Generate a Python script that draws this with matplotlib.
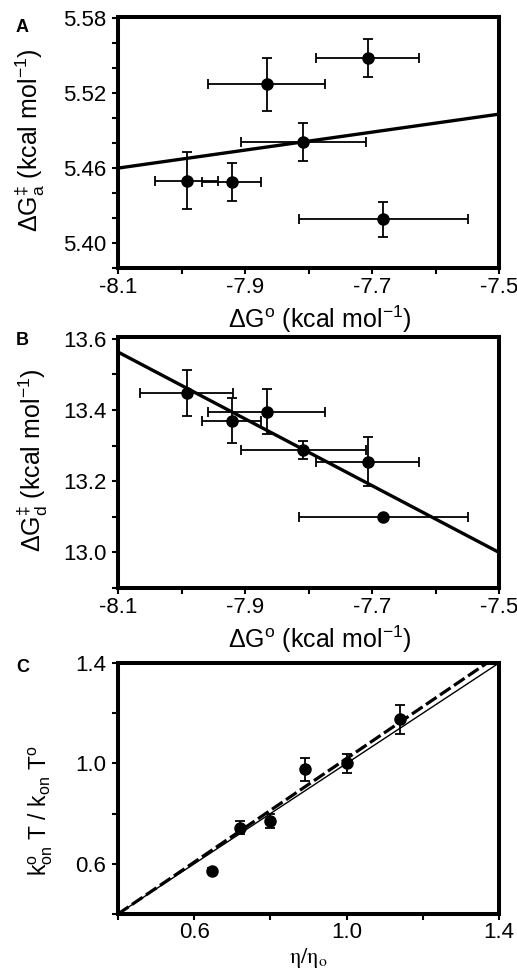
import matplotlib
matplotlib.use("Agg")
import matplotlib.pyplot as plt
import numpy as np
from matplotlib.ticker import FixedLocator

plt.rcParams['font.family'] = ['Liberation Sans', 'DejaVu Sans']
plt.rcParams['mathtext.fontset'] = 'custom'
plt.rcParams['mathtext.rm'] = 'Liberation Sans'
plt.rcParams['mathtext.it'] = 'Liberation Sans:italic'
plt.rcParams['mathtext.bf'] = 'Liberation Sans:bold'

# ---------------- data ----------------
dG0 = [-7.992, -7.921, -7.866, -7.808, -7.707, -7.682]
dG0_err = [0.050, 0.046, 0.092, 0.098, 0.081, 0.133]

dGa = [5.450, 5.449, 5.527, 5.481, 5.548, 5.419]
dGa_err = [0.023, 0.015, 0.021, 0.0155, 0.015, 0.014]

dGd = [13.447, 13.370, 13.395, 13.288, 13.255, 13.100]
dGd_err = [0.064, 0.063, 0.063, 0.026, 0.069, 0.004]
dG0_err_B = [0.073, 0.046, 0.092, 0.098, 0.081, 0.133]

eta = [0.646, 0.720, 0.800, 0.890, 1.000, 1.140]
kratio = [0.573, 0.744, 0.771, 0.976, 1.000, 1.176]
kratio_err = [0.010, 0.025, 0.027, 0.047, 0.039, 0.058]

fitA = (0.072, 6.0432)      # slope, intercept
fitB = (-0.938, 5.965)
fitC_dash = (1.0325, -0.013)
fitC_solid = (1.0, 0.0)

# ---------------- figure ----------------
W, H = 517, 969
fig = plt.figure(figsize=(W / 100, H / 100), dpi=100)

def px_axes(left, top, right, bottom):
    return fig.add_axes([left / W, 1 - bottom / H, (right - left) / W, (bottom - top) / H])

FS = 16
LFS = 18
SPINE = 2.9

def style(ax, xlim, ylim, xmaj, xmin, ymaj, ymin, xlabs, ylabs, xpad=2.5):
    ax.set_xlim(*xlim)
    ax.set_ylim(*ylim)
    ax.xaxis.set_major_locator(FixedLocator(xmaj))
    ax.xaxis.set_minor_locator(FixedLocator(xmin))
    ax.yaxis.set_major_locator(FixedLocator(ymaj))
    ax.yaxis.set_minor_locator(FixedLocator(ymin))
    ax.set_xticklabels(xlabs)
    ax.set_yticklabels(ylabs)
    for s in ax.spines.values():
        s.set_linewidth(SPINE)
    ax.tick_params(which='both', direction='out', length=4, width=1.5,
                   top=False, right=False, labelsize=FS, pad=4.5)
    ax.tick_params(axis='x', which='both', pad=xpad)

ekw = dict(fmt='o', color='black', ms=8, elinewidth=1.3, capsize=3.5, capthick=1.3)

# Panel A
axA = px_axes(118, 17, 499, 268)
axA.errorbar(dG0, dGa, xerr=dG0_err, yerr=dGa_err, zorder=3, **ekw)
xx = np.array([-8.1, -7.5])
axA.plot(xx, fitA[0] * xx + fitA[1], color='black', lw=2.4, zorder=2)
style(axA, (-8.1, -7.5), (5.38, 5.581),
      [-8.1, -7.9, -7.7, -7.5], [-8.0, -7.8, -7.6],
      [5.40, 5.46, 5.52, 5.58], [5.38, 5.42, 5.44, 5.48, 5.50, 5.54, 5.56],
      ['-8.1', '-7.9', '-7.7', '-7.5'], ['5.40', '5.46', '5.52', '5.58'])
axA.set_xlabel(r'$\Delta$G$^{\mathrm{o}}$ (kcal mol$^{-1}$)', fontsize=LFS)
axA.set_ylabel(r'$\Delta$G$^{\ddag}_{\mathrm{a}}$ (kcal mol$^{-1}$)', fontsize=LFS)
axA.xaxis.set_label_coords(0.53, -0.14)
axA.yaxis.set_label_coords(-0.186, 0.51)
fig.text(16 / W, 1 - 28 / H, 'A', fontsize=13, fontweight='bold', va='center', ha='left')

# Panel B
axB = px_axes(118, 337, 499, 588)
axB.errorbar(dG0, dGd, xerr=dG0_err_B, yerr=dGd_err, zorder=3, **ekw)
axB.plot(xx, fitB[0] * xx + fitB[1], color='black', lw=2.4, zorder=2)
style(axB, (-8.1, -7.5), (12.9, 13.605),
      [-8.1, -7.9, -7.7, -7.5], [-8.0, -7.8, -7.6],
      [13.0, 13.2, 13.4, 13.6], [12.9, 13.1, 13.3, 13.5],
      ['-8.1', '-7.9', '-7.7', '-7.5'], ['13.0', '13.2', '13.4', '13.6'])
axB.set_xlabel(r'$\Delta$G$^{\mathrm{o}}$ (kcal mol$^{-1}$)', fontsize=LFS)
axB.set_ylabel(r'$\Delta$G$^{\ddag}_{\mathrm{d}}$ (kcal mol$^{-1}$)', fontsize=LFS)
axB.xaxis.set_label_coords(0.53, -0.14)
axB.yaxis.set_label_coords(-0.178, 0.51)
fig.text(16 / W, 1 - 341 / H, 'B', fontsize=13, fontweight='bold', va='center', ha='left')

# Panel C
axC = px_axes(118, 663, 499, 914)
axC.errorbar(eta, kratio, yerr=kratio_err, zorder=3, **ekw)
xc = np.array([0.4, 1.4])
axC.plot(xc, fitC_solid[0] * xc + fitC_solid[1], color='black', lw=1.0, zorder=2)
axC.plot(xc, fitC_dash[0] * xc + fitC_dash[1], color='black', lw=2.3,
         dashes=(4, 1.3), zorder=2)
style(axC, (0.4, 1.4), (0.4, 1.4),
      [0.6, 1.0, 1.4], [0.4, 0.8, 1.2],
      [0.6, 1.0, 1.4], [0.4, 0.8, 1.2],
      ['0.6', '1.0', '1.4'], ['0.6', '1.0', '1.4'], xpad=2.0)
axC.set_xlabel(r'$\mathrm{\eta/\eta_{o}}$', fontsize=16, math_fontfamily='stix', va='top')
axC.set_ylabel(r'k$^{\mathrm{o}}_{\mathrm{on}}$ T / k$_{\mathrm{on}}$ T$^{\mathrm{o}}$', fontsize=16.5)
axC.xaxis.set_label_coords(0.50, -0.128)
axC.yaxis.set_label_coords(-0.165, 0.41)
fig.text(16 / W, 1 - 668 / H, 'C', fontsize=13, fontweight='bold', va='center', ha='left')

fig.savefig('out.png', dpi=100)
